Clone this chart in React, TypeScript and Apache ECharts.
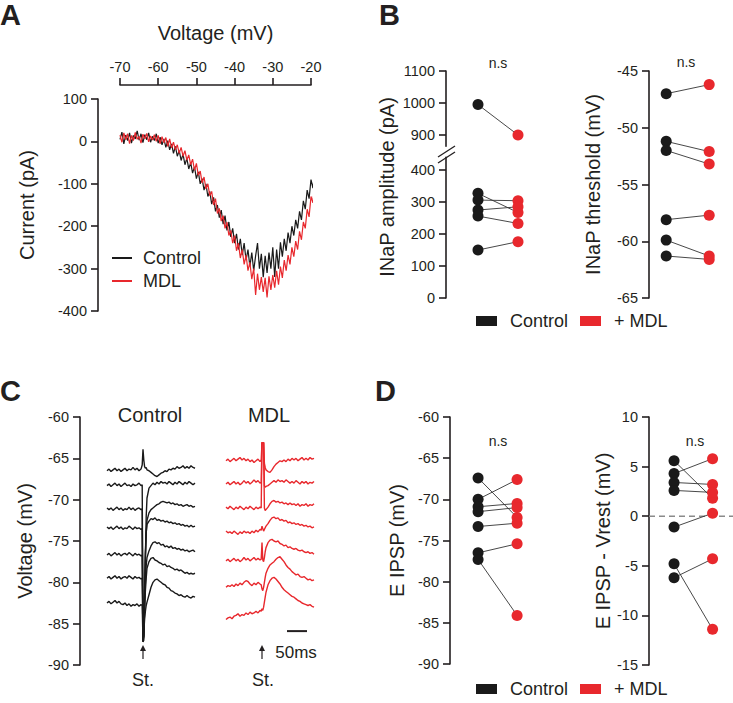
import React, { useEffect, useRef } from "react";
import * as echarts from "echarts";

const FONT = '"Liberation Sans", Arial, sans-serif';
const INK = "#231f20";
const RED = "#e8282d";
const BLACK = "#1a1a1a";

// ---------- Panel A: I-V ramp ----------
const IV_VOLTAGE = [
  -70, -69.5, -69, -68.5, -68, -67.5, -67, -66.5, -66, -65.5, -65, -64.5, -64, -63.5, -63, -62.5, -62, -61.5, -61, -60.5,
  -60, -59.5, -59, -58.5, -58, -57.5, -57, -56.5, -56, -55.5, -55, -54.5, -54, -53.5, -53, -52.5, -52, -51.5, -51, -50.5,
  -50, -49.5, -49, -48.5, -48, -47.5, -47, -46.5, -46, -45.5, -45, -44.5, -44, -43.5, -43, -42.5, -42, -41.5, -41, -40.5,
  -40, -39.5, -39, -38.5, -38, -37.5, -37, -36.5, -36, -35.5, -35, -34.5, -34, -33.5, -33, -32.5, -32, -31.5, -31, -30.5,
  -30, -29.5, -29, -28.5, -28, -27.5, -27, -26.5, -26, -25.5, -25, -24.5, -24, -23.5, -23, -22.5, -22, -21.5, -21, -20.5,
  -20, -19.5, -19, -18.5,
];
const IV_CONTROL = [
  5, 22, -6, 15, 2, 20, -4, 14, 6, 25,
  3, 18, -3, 16, 4, 20, -2, 12, 2, 18,
  -4, 10, -8, 6, -14, 2, -20, -6, -28, -12,
  -35, -22, -45, -30, -55, -40, -65, -50, -75, -60,
  -88, -72, -100, -88, -115, -100, -130, -118, -148, -132,
  -165, -150, -180, -162, -195, -175, -210, -190, -225, -205,
  -240, -218, -255, -230, -268, -240, -280, -255, -295, -262,
  -305, -270, -240, -300, -265, -320, -270, -310, -262, -300,
  -250, -320, -255, -300, -238, -272, -230, -258, -215, -240,
  -200, -222, -185, -205, -165, -185, -140, -160, -115, -135,
  -90, -110, -70, -40,
];
const IV_MDL = [
  15, -2, 20, 4, 18, -5, 14, 2, 21, 5,
  12, -4, 17, 6, 19, -1, 13, 3, 16, 0,
  14, -6, 11, -3, 9, -12, 6, -15, -2, -20,
  -8, -28, -14, -35, -22, -44, -32, -55, -42, -68,
  -52, -80, -70, -98, -84, -112, -100, -128, -118, -150,
  -135, -170, -158, -188, -175, -205, -190, -222, -210, -240,
  -222, -258, -240, -275, -255, -290, -268, -305, -285, -325,
  -300, -362, -312, -350, -320, -355, -322, -368, -318, -350,
  -315, -345, -305, -338, -295, -322, -280, -305, -268, -290,
  -250, -272, -235, -255, -212, -232, -190, -205, -160, -178,
  -130, -145, -95, -60,
];

// ---------- Panel B ----------
const AMP_CONTROL = [995, 327, 306, 275, 256, 150];
const AMP_MDL = [900, 267, 304, 285, 233, 176];
const AMP_LOW_TICKS = [0, 100, 200, 300, 400];
const AMP_HIGH_TICKS = [900, 1000, 1100];
const THR_CONTROL = [-47.0, -51.2, -52.0, -58.1, -59.9, -61.3];
const THR_MDL = [-46.2, -52.1, -53.2, -57.7, -61.3, -61.6];

// ---------- Panel C: traces (ms relative to stimulus, mV) ----------
const TRACE_TIME = [
  -90, -85, -80, -75, -70, -65, -60, -55, -50, -45, -40, -35, -30, -25, -20, -15, -10, -5,
  -2, 0, 2, 4, 6, 8, 10,
  15, 20, 25, 30, 35, 40, 45, 50, 55, 60, 65, 70, 75, 80, 85, 90, 95, 100, 105, 110, 115, 120, 125, 130,
];
const CTRL_1 = [-66.5,-66.3,-66.6,-66.4,-66.2,-66.5,-66.3,-66.6,-66.4,-66.2,-66.5,-66.3,-66.4,-66.1,-66.4,-66.2,-66.5,-66.3, -65.8,-63.9,-65.2,-66.0,-66.2,-66.1,-66.4, -66.5,-66.7,-66.9,-67.1,-67.2,-67.0,-66.8,-66.7,-66.5,-66.6,-66.3,-66.4,-66.2,-66.3,-66.0,-66.2,-66.1,-65.9,-66.2,-66.0,-66.2,-65.9,-66.1,-66.2];
const CTRL_2 = [-68.3,-68.1,-68.4,-68.2,-68.0,-68.3,-68.1,-68.4,-68.2,-68.0,-68.3,-68.2,-68.4,-68.1,-68.3,-68.2,-68.0,-68.3, -68.2,-87.2,-87.0,-83.0,-77.0,-72.0,-69.8, -68.6,-68.3,-68.0,-68.2,-67.9,-68.1,-67.8,-68.0,-67.9,-68.1,-67.8,-68.0,-68.2,-67.9,-68.1,-67.8,-68.0,-68.2,-67.9,-68.1,-67.8,-68.0,-68.2,-68.0];
const CTRL_3 = [-71.0,-71.2,-71.0,-71.3,-71.1,-70.9,-71.2,-71.0,-71.3,-71.1,-71.2,-70.9,-71.2,-71.0,-71.3,-71.1,-71.0,-71.2, -71.1,-87.0,-86.5,-82.0,-77.0,-74.0,-72.5, -71.6,-71.2,-71.0,-70.8,-70.6,-70.5,-70.3,-70.2,-70.3,-70.4,-70.3,-70.5,-70.4,-70.6,-70.5,-70.7,-70.6,-70.8,-70.7,-70.6,-70.8,-70.7,-70.9,-70.8];
const CTRL_4 = [-73.3,-73.5,-73.3,-73.6,-73.4,-73.2,-73.5,-73.3,-73.6,-73.4,-73.5,-73.2,-73.4,-73.6,-73.3,-73.5,-73.4,-73.6, -73.5,-87.0,-86.0,-81.0,-76.5,-74.0,-73.0, -72.6,-72.3,-72.4,-72.2,-72.5,-72.4,-72.6,-72.5,-72.7,-72.6,-72.8,-72.7,-72.9,-72.8,-73.0,-72.9,-73.1,-73.0,-73.2,-73.1,-73.3,-73.1,-73.3,-73.2];
const CTRL_5 = [-76.7,-76.5,-76.8,-76.6,-76.4,-76.7,-76.5,-76.8,-76.6,-76.5,-76.7,-76.4,-76.6,-76.8,-76.5,-76.7,-76.6,-76.8, -76.7,-87.2,-86.5,-83.0,-80.0,-78.0,-77.0, -76.2,-75.6,-75.2,-75.1,-75.3,-75.2,-75.5,-75.4,-75.7,-75.6,-75.8,-75.6,-75.9,-75.8,-76.0,-75.9,-76.1,-76.0,-76.2,-76.1,-76.3,-76.2,-76.1,-76.3];
const CTRL_6 = [-79.5,-79.3,-79.6,-79.4,-79.2,-79.5,-79.3,-79.6,-79.4,-79.3,-79.5,-79.2,-79.4,-79.6,-79.3,-79.5,-79.4,-79.6, -79.5,-87.0,-85.0,-82.5,-81.0,-79.5,-78.3, -77.5,-77.1,-77.0,-77.3,-77.4,-77.6,-77.7,-77.9,-77.8,-78.1,-78.0,-78.2,-78.3,-78.5,-78.4,-78.6,-78.5,-78.7,-78.9,-78.8,-79.0,-78.9,-79.0,-78.9];
const CTRL_7 = [-82.5,-82.3,-82.6,-82.4,-82.2,-82.5,-82.3,-82.6,-82.7,-82.5,-82.8,-82.6,-82.9,-82.7,-82.8,-82.6,-82.9,-82.7, -82.8,-87.2,-86.0,-84.5,-83.5,-82.8,-82.4, -81.5,-80.6,-80.0,-79.7,-79.6,-79.8,-80.0,-80.2,-80.3,-80.6,-80.7,-81.0,-81.1,-81.3,-81.4,-81.6,-81.5,-81.7,-81.8,-81.6,-81.8,-81.9,-81.7,-81.8];
const MDL_1 = [-65.3,-65.1,-65.4,-65.2,-65.0,-65.3,-65.1,-64.9,-65.2,-65.0,-65.3,-65.1,-65.4,-65.2,-65.5,-65.3,-65.1,-65.4, -65.2,-63.1,-63.1,-63.1,-65.6,-66.1,-66.4, -66.6,-66.7,-66.4,-66.0,-65.7,-65.5,-65.3,-65.4,-65.2,-65.4,-65.1,-65.3,-65.0,-65.2,-65.0,-65.3,-65.1,-64.9,-65.2,-65.0,-65.2,-64.9,-65.1,-65.0];
const MDL_2 = [-68.1,-67.9,-68.2,-68.0,-67.8,-68.1,-67.9,-68.2,-68.0,-67.7,-68.0,-67.8,-68.1,-67.9,-67.6,-67.9,-67.7,-68.0, -67.9,-63.1,-63.1,-63.1,-68.3,-68.5,-68.4, -68.3,-68.1,-67.9,-67.7,-67.9,-67.6,-67.8,-67.7,-67.9,-67.6,-67.8,-68.0,-67.8,-68.0,-67.7,-67.9,-68.1,-67.8,-68.0,-67.8,-68.1,-67.9,-68.0,-67.8];
const MDL_3 = [-70.9,-71.1,-70.8,-71.0,-71.2,-70.9,-71.1,-70.8,-71.0,-71.2,-70.9,-71.1,-70.8,-71.0,-71.2,-70.9,-71.1,-70.9, -71.0,-63.1,-63.1,-63.1,-71.0,-71.3,-71.2, -70.9,-70.5,-70.2,-70.1,-70.3,-70.2,-70.4,-70.3,-70.5,-70.4,-70.6,-70.4,-70.6,-70.5,-70.7,-70.5,-70.8,-70.6,-70.7,-70.5,-70.8,-70.6,-70.7,-70.5];
const MDL_4 = [-73.8,-74.0,-73.9,-74.1,-73.8,-74.0,-74.2,-73.9,-74.1,-73.8,-74.0,-73.9,-74.1,-73.8,-74.0,-73.7,-73.9,-73.6, -73.7,-73.2,-73.5,-73.8,-73.6,-73.4,-73.2, -72.9,-72.5,-72.2,-72.1,-72.3,-72.2,-72.5,-72.4,-72.6,-72.5,-72.8,-72.7,-72.9,-72.8,-73.0,-72.9,-73.1,-73.0,-73.2,-73.1,-73.3,-73.2,-73.4,-73.3];
const MDL_5 = [-77.4,-77.2,-77.5,-77.3,-77.1,-77.4,-77.2,-77.5,-77.3,-77.0,-77.3,-77.1,-77.4,-77.2,-77.0,-77.3,-77.1,-77.3, -77.2,-75.2,-77.3,-77.5,-77.0,-76.3,-75.8, -75.2,-74.9,-74.8,-75.0,-75.1,-75.0,-75.3,-75.4,-75.6,-75.5,-75.8,-75.7,-75.9,-76.0,-75.9,-76.1,-76.2,-76.1,-76.3,-76.4,-76.3,-76.5,-76.4,-76.6];
const MDL_6 = [-80.6,-80.4,-80.5,-80.3,-80.5,-80.2,-80.4,-80.1,-80.3,-80.0,-79.8,-79.9,-80.2,-80.4,-80.1,-80.3,-80.0,-80.2, -80.3,-80.8,-81.0,-80.6,-80.0,-79.4,-78.9, -78.3,-77.9,-77.7,-77.5,-77.2,-77.0,-76.9,-77.2,-77.5,-77.9,-78.2,-78.4,-78.7,-78.9,-79.1,-79.0,-79.3,-79.4,-79.3,-79.5,-79.7,-79.6,-79.8,-79.7];
const MDL_7 = [-84.5,-84.3,-84.2,-84.4,-84.1,-84.0,-83.8,-84.1,-83.9,-84.0,-83.7,-83.9,-83.6,-83.8,-83.7,-83.5,-83.7,-83.4, -83.5,-83.2,-83.4,-83.0,-82.4,-81.8,-81.2, -80.3,-79.8,-79.5,-79.4,-79.6,-79.9,-80.2,-80.6,-80.9,-81.1,-81.3,-81.5,-81.7,-81.8,-82.0,-82.2,-82.3,-82.5,-82.6,-82.7,-82.8,-82.7,-82.9,-83.0];
const CTRL_TRACES = [CTRL_1, CTRL_2, CTRL_3, CTRL_4, CTRL_5, CTRL_6, CTRL_7];
const MDL_TRACES = [MDL_1, MDL_2, MDL_3, MDL_4, MDL_5, MDL_6, MDL_7];
const SCALE_BAR_MS = 50;

// ---------- Panel D ----------
const EIPSP_CONTROL = [-67.4, -70.0, -70.9, -71.5, -73.3, -76.5, -77.3];
const EIPSP_MDL = [-72.2, -67.6, -70.5, -71.0, -72.9, -75.4, -84.1];
const DIFF_CONTROL = [5.6, 4.3, 3.4, 2.6, -1.1, -4.8, -6.2];
const DIFF_MDL = [1.8, 5.8, 3.2, 2.4, 0.3, -11.4, -4.3];

// ---------- shared layout (grid rects and axis extents) ----------
const GRIDS = [
  { left: 120, top: 99, width: 191, height: 212 },
  { left: 446, top: 157.2, width: 92, height: 140.8 },
  { left: 446, top: 71, width: 92, height: 75.2 },
  { left: 649, top: 71, width: 81.7, height: 227 },
  { left: 107, top: 417, width: 88, height: 248 },
  { left: 226, top: 417, width: 88, height: 248 },
  { left: 450, top: 417, width: 86.6, height: 247 },
  { left: 649, top: 417, width: 84, height: 248 },
];
const X_EXT = [[-70, -20], [-0.8, 1.5], [-0.8, 1.5], [-0.4, 1.5], [-90, 130], [-90, 130], [-0.72, 1.5], [-0.65, 1.53]];
const Y_EXT = [[-400, 100], [0, 440], [865, 1100], [-65, -45], [-90, -60], [-90, -60], [-90, -60], [-15, 10]];

// ---------- axes chart ----------
const mkAxisLine = () => ({ show: true, onZero: false, lineStyle: { color: INK, width: 1.6 } });
const mkAxisTick = (extra: any = {}) => ({ show: true, length: 7, lineStyle: { color: INK, width: 1.6 }, ...extra });
const mkAxisLabel = (extra: any = {}) => ({
  show: true,
  color: INK,
  fontSize: 14.5,
  fontFamily: FONT,
  margin: 11,
  formatter: (v: number) => String(v),
  ...extra,
});
const nameTextStyle = { color: INK, fontSize: 20, fontFamily: FONT };

function hiddenAxis(gridIndex: number, ext: number[]) {
  return { type: "value", gridIndex, min: ext[0], max: ext[1], show: false, axisLine: { onZero: false }, splitLine: { show: false } };
}

function yAx(gridIndex: number, extra: any) {
  return {
    type: "value",
    gridIndex,
    min: Y_EXT[gridIndex][0],
    max: Y_EXT[gridIndex][1],
    axisLine: mkAxisLine(),
    axisTick: mkAxisTick(),
    axisLabel: mkAxisLabel(),
    splitLine: { show: false },
    nameLocation: "middle",
    nameTextStyle,
    ...extra,
  };
}

function axesOption() {
  const xAxis = X_EXT.map((ext, i) =>
    i === 0
      ? {
          type: "value",
          gridIndex: 0,
          position: "top",
          offset: 14,
          min: ext[0],
          max: ext[1],
          interval: 10,
          axisLine: mkAxisLine(),
          axisTick: mkAxisTick(),
          axisLabel: mkAxisLabel(),
          splitLine: { show: false },
          name: "Voltage (mV)",
          nameLocation: "middle",
          nameGap: 42,
          nameTextStyle,
        }
      : hiddenAxis(i, ext)
  );
  const yAxis = [
    yAx(0, { interval: 100, offset: 22, name: "Current (pA)", nameGap: 61 }),
    yAx(1, { axisTick: mkAxisTick({ customValues: AMP_LOW_TICKS }), axisLabel: mkAxisLabel({ customValues: AMP_LOW_TICKS }) }),
    yAx(2, { axisTick: mkAxisTick({ customValues: AMP_HIGH_TICKS }), axisLabel: mkAxisLabel({ customValues: AMP_HIGH_TICKS }) }),
    yAx(3, { interval: 5, name: "INaP threshold (mV)", nameGap: 46 }),
    yAx(4, { interval: 5, offset: 27, name: "Voltage (mV)", nameGap: 45 }),
    hiddenAxis(5, Y_EXT[5]),
    yAx(6, { interval: 5, name: "E IPSP (mV)", nameGap: 43 }),
    yAx(7, { interval: 5, name: "E IPSP - Vrest (mV)", nameGap: 36 }),
  ];
  return { animation: false, backgroundColor: "#ffffff", grid: GRIDS, xAxis, yAxis, series: [] };
}

// ---------- marks chart ----------
function pairLines(ctrl: number[], mdl: number[], axisIndex: number) {
  return ctrl.map((c, i) => ({
    type: "line",
    xAxisIndex: axisIndex,
    yAxisIndex: axisIndex,
    data: [[0, c], [1, mdl[i]]],
    symbol: "none",
    silent: true,
    lineStyle: { color: "#333333", width: 0.9 },
    z: 1,
  }));
}

function dots(name: string, x: number, vals: number[], color: string, axisIndex: number) {
  return {
    type: "scatter",
    name,
    xAxisIndex: axisIndex,
    yAxisIndex: axisIndex,
    data: vals.map((v) => [x, v]),
    symbolSize: 11,
    itemStyle: { color, opacity: 1 },
    z: 3,
  };
}

function traceSeries(values: number[], color: string, axisIndex: number) {
  return {
    type: "line",
    xAxisIndex: axisIndex,
    yAxisIndex: axisIndex,
    data: TRACE_TIME.map((t, i) => [t, values[i]]),
    symbol: "none",
    silent: true,
    lineStyle: { color, width: 1.4 },
    z: 2,
  };
}

function txt(text: string, x: number, y: number, size: number, opts: any = {}) {
  return {
    type: "text",
    x,
    y,
    rotation: opts.rot || 0,
    silent: true,
    style: {
      text,
      fill: INK,
      font: `${opts.bold ? "bold " : ""}${size}px ${FONT}`,
      textAlign: opts.align || "center",
      align: opts.align || "center",
      textVerticalAlign: "middle",
      verticalAlign: "middle",
    },
  };
}

function arrow(x: number) {
  return {
    type: "group",
    silent: true,
    children: [
      { type: "line", shape: { x1: x, y1: 659, x2: x, y2: 649 }, style: { stroke: INK, lineWidth: 1.2 } },
      { type: "polygon", shape: { points: [[x - 3, 651], [x + 3, 651], [x, 645]] }, style: { fill: INK } },
    ],
  };
}

const ampLowIdx = AMP_CONTROL.map((_, i) => i).filter((i) => AMP_CONTROL[i] < 600);
const ampHighIdx = AMP_CONTROL.map((_, i) => i).filter((i) => AMP_CONTROL[i] >= 600);

function marksOption() {
  const xAxis = X_EXT.map((ext, i) => hiddenAxis(i, ext));
  const yAxis = Y_EXT.map((ext, i) => hiddenAxis(i, ext));
  const series: any[] = [];

  series.push({
    type: "line",
    name: "Control",
    xAxisIndex: 0,
    yAxisIndex: 0,
    data: IV_VOLTAGE.map((v, i) => [v, IV_CONTROL[i]]),
    symbol: "none",
    clip: false,
    lineStyle: { color: BLACK, width: 1.2 },
    itemStyle: { color: BLACK },
    z: 2,
  });
  series.push({
    type: "line",
    name: "MDL",
    xAxisIndex: 0,
    yAxisIndex: 0,
    data: IV_VOLTAGE.map((v, i) => [v, IV_MDL[i]]),
    symbol: "none",
    clip: false,
    lineStyle: { color: RED, width: 1.2 },
    itemStyle: { color: RED },
    z: 3,
  });

  series.push(...pairLines(ampLowIdx.map((i) => AMP_CONTROL[i]), ampLowIdx.map((i) => AMP_MDL[i]), 1));
  series.push(...pairLines(ampHighIdx.map((i) => AMP_CONTROL[i]), ampHighIdx.map((i) => AMP_MDL[i]), 2));
  series.push(dots("Control", 0, ampLowIdx.map((i) => AMP_CONTROL[i]), BLACK, 1));
  series.push(dots("+ MDL", 1, ampLowIdx.map((i) => AMP_MDL[i]), RED, 1));
  series.push(dots("Control", 0, ampHighIdx.map((i) => AMP_CONTROL[i]), BLACK, 2));
  series.push(dots("+ MDL", 1, ampHighIdx.map((i) => AMP_MDL[i]), RED, 2));

  series.push(...pairLines(THR_CONTROL, THR_MDL, 3));
  series.push(dots("Control", 0, THR_CONTROL, BLACK, 3));
  series.push(dots("+ MDL", 1, THR_MDL, RED, 3));

  CTRL_TRACES.forEach((tr) => series.push(traceSeries(tr, BLACK, 4)));
  MDL_TRACES.forEach((tr) => series.push(traceSeries(tr, RED, 5)));
  series.push({
    type: "line",
    xAxisIndex: 5,
    yAxisIndex: 5,
    data: [[62.5, -85.9], [62.5 + SCALE_BAR_MS, -85.9]],
    symbol: "none",
    clip: false,
    silent: true,
    lineStyle: { color: INK, width: 2 },
  });

  series.push(...pairLines(EIPSP_CONTROL, EIPSP_MDL, 6));
  series.push(dots("Control", 0, EIPSP_CONTROL, BLACK, 6));
  series.push(dots("+ MDL", 1, EIPSP_MDL, RED, 6));

  series.push({
    type: "line",
    xAxisIndex: 7,
    yAxisIndex: 7,
    data: [[X_EXT[7][0], 0], [X_EXT[7][1], 0]],
    symbol: "none",
    silent: true,
    lineStyle: { color: "#8a8a8a", width: 1.5, type: [6, 4] },
    z: 0,
  });
  series.push(...pairLines(DIFF_CONTROL, DIFF_MDL, 7));
  series.push(dots("Control", 0, DIFF_CONTROL, BLACK, 7));
  series.push(dots("+ MDL", 1, DIFF_MDL, RED, 7));

  const legendText = { fontSize: 18, color: INK, fontFamily: FONT, padding: [0, 0, 0, 6] };
  const legend = [
    {
      left: 112,
      top: 249,
      padding: 0,
      orient: "vertical",
      icon: "rect",
      itemWidth: 20,
      itemHeight: 2,
      itemGap: 5,
      selectedMode: false,
      data: ["Control", "MDL"],
      textStyle: legendText,
    },
    {
      left: 476,
      top: 312,
      padding: 0,
      icon: "rect",
      itemWidth: 21,
      itemHeight: 10,
      itemGap: 12,
      selectedMode: false,
      data: ["Control", "+ MDL"],
      textStyle: { ...legendText, padding: [0, 0, 0, 8] },
    },
    {
      left: 476,
      top: 680,
      padding: 0,
      icon: "rect",
      itemWidth: 21,
      itemHeight: 10,
      itemGap: 12,
      selectedMode: false,
      data: ["Control", "+ MDL"],
      textStyle: { ...legendText, padding: [0, 0, 0, 8] },
    },
  ];

  const graphic = [
    txt("A", 0, 15, 29, { bold: true, align: "left" }),
    txt("B", 379, 15, 29, { bold: true, align: "left" }),
    txt("C", 0, 391, 29, { bold: true, align: "left" }),
    txt("D", 375, 391, 29, { bold: true, align: "left" }),
    txt("n.s", 498, 63, 14),
    txt("n.s", 686, 62, 14),
    txt("n.s", 498, 441, 14),
    txt("n.s", 695, 441, 14),
    txt("INaP amplitude (pA)", 387, 187, 20, { rot: Math.PI / 2 }),
    txt("Control", 150, 415, 20),
    txt("MDL", 269, 415, 20),
    txt("St.", 143, 680, 18),
    txt("St.", 263, 680, 18),
    txt("50ms", 296, 652, 17),
    arrow(143),
    arrow(262),
    { type: "line", silent: true, shape: { x1: 438, y1: 157, x2: 455, y2: 146 }, style: { stroke: INK, lineWidth: 1.3 } },
    { type: "line", silent: true, shape: { x1: 438, y1: 163, x2: 455, y2: 152 }, style: { stroke: INK, lineWidth: 1.3 } },
  ];

  return {
    animation: false,
    backgroundColor: "transparent",
    grid: GRIDS,
    xAxis,
    yAxis,
    legend,
    series,
    graphic,
  };
}

export default function App() {
  const axesRef = useRef<HTMLDivElement>(null);
  const marksRef = useRef<HTMLDivElement>(null);
  useEffect(() => {
    document.body.style.margin = "0";
    const axesChart = echarts.init(axesRef.current!, null, { renderer: "svg", width: 733, height: 703 });
    axesChart.setOption(axesOption() as any);
    const marksChart = echarts.init(marksRef.current!, null, { renderer: "svg", width: 733, height: 703 });
    marksChart.setOption(marksOption() as any);
    return () => {
      axesChart.dispose();
      marksChart.dispose();
    };
  }, []);
  return (
    <div style={{ position: "relative", width: 733, height: 703 }}>
      <div ref={axesRef} style={{ position: "absolute", left: 0, top: 0, width: 733, height: 703 }} />
      <div ref={marksRef} style={{ position: "absolute", left: 0, top: 0, width: 733, height: 703 }} />
    </div>
  );
}
